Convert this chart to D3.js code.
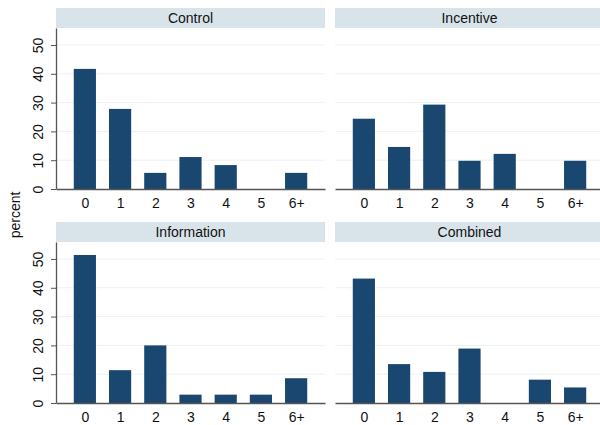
<!DOCTYPE html>
<html>
<head>
<meta charset="utf-8">
<script src="https://cdn.jsdelivr.net/npm/d3@7"></script>
<style>
    body { margin: 0; background: #fff; }
    text { font-family: "Liberation Sans", Arial, sans-serif; fill: #111; }
</style>
</head>
<body>
<svg id="chart"></svg>
<script>
const width = 600, height = 425

const categories = ["0", "1", "2", "3", "4", "5", "6+"]
const panelNames = ["Control", "Incentive", "Information", "Combined"]
const control = [41.7, 27.8, 5.6, 11.1, 8.3, 0, 5.6]
const incentive = [24.4, 14.6, 29.3, 9.8, 12.2, 0, 9.8]
const information = [51.4, 11.4, 20.0, 2.9, 2.9, 2.9, 8.6]
const combined = [43.2, 13.5, 10.8, 18.9, 0, 8.1, 5.4]
const yTicks = [0, 10, 20, 30, 40, 50]

const panelValues = [control, incentive, information, combined]

const panelW = 269
const stripH = 20
const plotH = 161
const colX = [56, 335]
const rowY = [8, 222]
const fontStack = "Liberation Sans, Arial, sans-serif"

const svg = d3.select("svg#chart")
    .attr("width", width)
    .attr("height", height)

const xScale = d3.scalePoint()
    .domain(categories)
    .range([0, panelW])
    .padding(0.82)

const barW = xScale.step() * 0.63

const yScale = d3.scaleLinear()
    .domain([0, 55.9])
    .range([plotH, 0])

panelNames.forEach((name, i) => {
    const col = i % 2, row = Math.floor(i / 2)
    const g = svg.append("g")
        .attr("transform", `translate(${colX[col]}, ${rowY[row]})`)

    // strip
    g.append("rect")
        .attr("x", 0).attr("y", 0)
        .attr("width", panelW).attr("height", stripH)
        .attr("fill", "#d9e4ea")
    g.append("text")
        .attr("x", panelW / 2).attr("y", stripH / 2 + 5)
        .attr("text-anchor", "middle")
        .attr("font-size", 14)
        .text(name)

    const plot = g.append("g").attr("transform", `translate(0, ${stripH})`)

    // grid
    plot.append("g").selectAll("line")
        .data(yTicks.filter(d => d > 0))
        .enter().append("line")
        .attr("x1", 0).attr("x2", panelW)
        .attr("y1", d => yScale(d)).attr("y2", d => yScale(d))
        .attr("stroke", "#eaf2f3")
        .attr("stroke-width", 1)

    // bars
    plot.append("g").selectAll("rect")
        .data(panelValues[i].map((v, j) => ({cat: categories[j], v})))
        .enter().append("rect")
        .attr("x", d => xScale(d.cat) - barW / 2)
        .attr("width", barW)
        .attr("y", d => yScale(d.v))
        .attr("height", d => plotH - yScale(d.v))
        .attr("fill", "#1a476f")

    // x axis
    const xAxis = plot.append("g")
        .attr("transform", `translate(0, ${plotH})`)
        .call(d3.axisBottom(xScale).tickSize(0).tickPadding(9))
    xAxis.select(".domain").attr("stroke", "#555").attr("stroke-width", 1.3)
    xAxis.selectAll("text").attr("font-size", 14).attr("fill", "#111")
        .style("font-family", fontStack)

    // y axis only on left column
    if (col === 0) {
        const yAxis = plot.append("g")
            .call(d3.axisLeft(yScale).tickValues(yTicks).tickSize(5).tickSizeOuter(0))
        yAxis.select(".domain").attr("stroke", "#555").attr("stroke-width", 1.3)
        yAxis.selectAll(".tick line").attr("stroke", "#555")
        yAxis.selectAll(".tick text")
            .attr("font-size", 14).attr("fill", "#111")
            .style("font-family", fontStack)
            .attr("text-anchor", "middle")
            .attr("transform", "rotate(-90)")
            .attr("x", 0)
            .attr("y", -18)
            .attr("dy", "0.35em")
    }
})

svg.append("text")
    .attr("transform", `translate(20, 215) rotate(-90)`)
    .attr("text-anchor", "middle")
    .attr("font-size", 14)
    .text("percent")
</script>
</body>
</html>
